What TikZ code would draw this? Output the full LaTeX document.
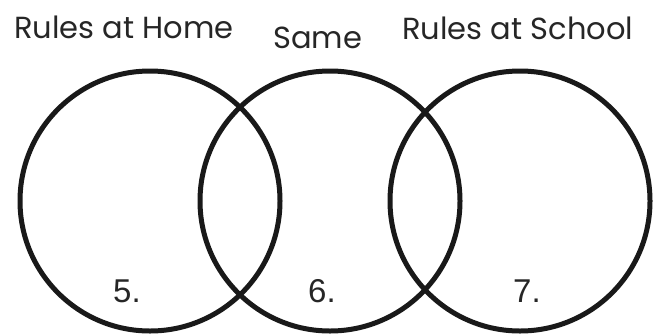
\documentclass[tikz,border=0pt]{standalone}
\usepackage{fontspec}
\newfontfamily\labfont{Poppins}
\newfontfamily\numfont{Liberation Sans}
\begin{document}
\begin{tikzpicture}[x=1pt,y=-1pt,
  ring/.style={circle,draw=black!90,line width=5pt,minimum size=260pt,inner sep=0pt},
  title/.style={anchor=base west,inner sep=0pt,font=\labfont\fontsize{30.5}{33}\selectfont,text=black!85},
  num/.style={anchor=base west,inner sep=0pt,font=\numfont\fontsize{33}{36}\selectfont,text=black!85}]
\useasboundingbox (0,0) rectangle (658,335);
\node[ring] (home) at (150,201) {};
\node[ring] (same) at (330,201) {};
\node[ring] (school) at (520,201) {};
\node[title] (thome) at (14,38) {Rules at Home};
\node[title] (tsame) at (273,48) {Same};
\node[title] (tschool) at (402,39) {Rules at School};
\node[num] (n5) at (113,302) {5.};
\node[num] (n6) at (308,302) {6.};
\node[num] (n7) at (513,302) {7.};
\end{tikzpicture}
\end{document}
